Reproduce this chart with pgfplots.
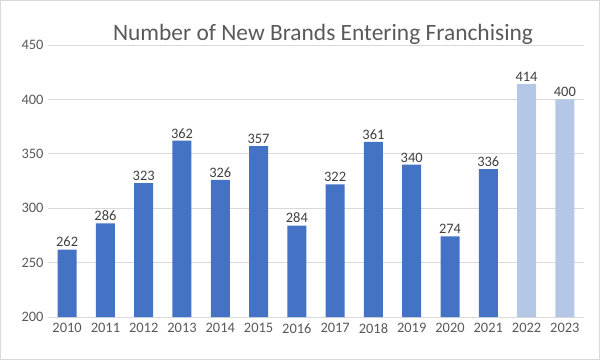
\documentclass[border=0pt]{standalone}
\usepackage{pgfplots}
\pgfplotsset{compat=1.18}
\usepackage{fontspec}
\setmainfont{Carlito}
\definecolor{darkbar}{HTML}{4472C4}
\definecolor{lightbar}{HTML}{B4C7E7}
\definecolor{txt}{HTML}{595959}
\definecolor{gridc}{HTML}{D9D9D9}
\begin{document}
\begin{tikzpicture}
\begin{axis}[
  at={(0,0)}, anchor=south west,
  width=536bp, height=272bp, scale only axis,
  xmin=-0.5, xmax=13.5, ymin=200, ymax=450,
  ytick={200,250,...,450},
  xtick={0,...,13},
  xticklabels={2010,2011,2012,2013,2014,2015,2016,2017,2018,2019,2020,2021,2022,2023},
  axis line style={draw=none},
  grid=none,
  tick style={draw=none},
  major tick length=0pt,
  tick label style={font=\fontsize{14.5}{16}\selectfont, text=txt},
  /pgf/number format/assume math mode=true,
  yticklabel style={xshift=-1bp},
  xticklabel style={yshift=-3bp},
  ybar, bar width=19bp, bar shift=0pt,
  nodes near coords,
  nodes near coords style={font=\fontsize{14.5}{16}\selectfont, text=black!75, yshift=-1bp},
  clip=false,
]
\foreach \yy in {200,250,...,450}{
  \edef\tmp{\noexpand\draw[gridc, line width=0.8pt] (axis cs:-0.5,\yy) -- (axis cs:13.5,\yy);}\tmp
}
\addplot[fill=darkbar, draw=none] coordinates {(0,262) (1,286) (2,323) (3,362) (4,326) (5,357) (6,284) (7,322) (8,361) (9,340) (10,274) (11,336)};
\addplot[fill=lightbar, draw=none] coordinates {(12,414) (13,400)};
\end{axis}
\draw[gridc, line width=0.8pt] (-47.6bp,-42.6bp) rectangle (551.6bp,316.6bp);
\node[font=\fontsize{23.5}{28}\selectfont, text=txt] at (275bp,283bp) {Number of New Brands Entering Franchising};
\end{tikzpicture}
\end{document}
